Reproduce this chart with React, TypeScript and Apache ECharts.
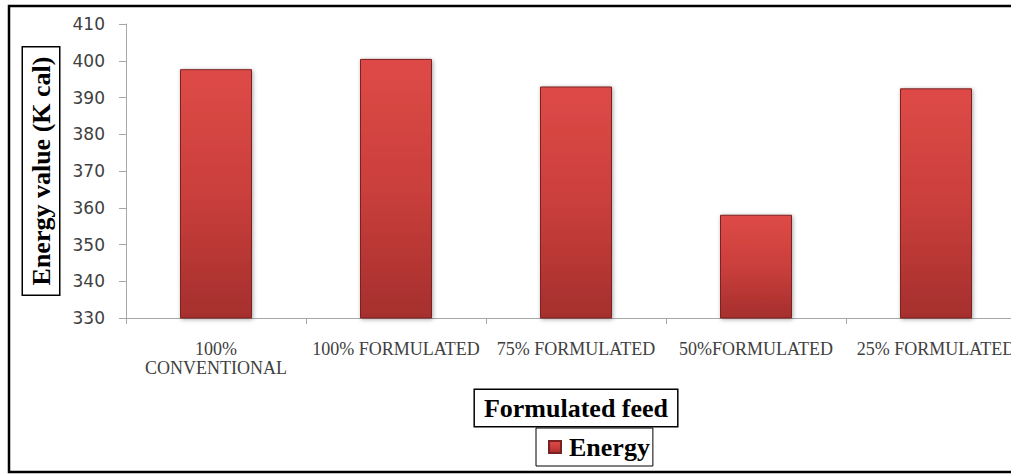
import React, { useEffect, useRef } from "react";
import * as echarts from "echarts";

const categories = ["100%\nCONVENTIONAL", "100% FORMULATED", "75% FORMULATED", "50%FORMULATED", "25% FORMULATED"];
const energyValues = [397.7, 400.5, 393.0, 358.1, 392.5];
const yTicks = { min: 330, max: 410, interval: 10 };
const seriesName = "Energy";
const xAxisTitle = "Formulated feed";
const yAxisTitle = "Energy value (K cal)";

export default function App() {
  const ref = useRef<HTMLDivElement>(null);
  useEffect(() => {
    if (!ref.current) return;
    const chart = echarts.init(ref.current, null, { renderer: "svg" });
    const barColor = new echarts.graphic.LinearGradient(0, 0, 0, 1, [
      { offset: 0, color: "#de4a47" },
      { offset: 0.5, color: "#ca3f3c" },
      { offset: 1, color: "#a52f2d" },
    ]);
    chart.setOption({
      animation: false,
      backgroundColor: "#ffffff",
      grid: { left: 126, top: 24, width: 900, bottom: 156 },
      graphic: [
        {
          type: "rect",
          shape: { x: 9, y: 6, width: 1040, height: 466 },
          style: { fill: "none", stroke: "#000", lineWidth: 2.5 },
          silent: true,
          z: 100,
        },
      ],
      legend: {
        data: [seriesName],
        left: 536,
        top: 428,
        icon: "rect",
        itemWidth: 12,
        itemHeight: 12,
        borderColor: "#000",
        borderWidth: 1,
        padding: [6, 3, 6, 12],
        backgroundColor: "#fff",
        textStyle: { fontFamily: "Liberation Serif", fontWeight: "bold", fontSize: 26, color: "#000", padding: [0, 0, 0, 3] },
      },
      xAxis: {
        type: "category",
        data: categories,
        name: xAxisTitle,
        nameLocation: "middle",
        nameGap: 72,
        nameTextStyle: {
          fontFamily: "Liberation Serif",
          fontWeight: "bold",
          fontSize: 26,
          color: "#000",
          borderColor: "#000",
          borderWidth: 1.5,
          padding: [5, 9, 5, 9],
          backgroundColor: "#fff",
        },
        axisLine: { lineStyle: { color: "#a6a6a6", width: 1 } },
        axisTick: { show: true, length: 6, lineStyle: { color: "#a6a6a6" } },
        axisLabel: {
          fontFamily: "Liberation Serif",
          fontSize: 18,
          lineHeight: 19,
          color: "#404040",
          margin: 21,
          interval: 0,
        },
      },
      yAxis: {
        type: "value",
        min: yTicks.min,
        max: yTicks.max,
        interval: yTicks.interval,
        name: yAxisTitle,
        nameLocation: "middle",
        nameGap: 67,
        nameTextStyle: {
          fontFamily: "Liberation Serif",
          fontWeight: "bold",
          fontSize: 26,
          color: "#000",
          borderColor: "#000",
          borderWidth: 1.5,
          padding: [5, 9, 5, 9],
          backgroundColor: "#fff",
        },
        splitLine: { show: false },
        axisLine: { show: true, lineStyle: { color: "#a6a6a6", width: 1 } },
        axisTick: { show: true, length: 7, lineStyle: { color: "#a6a6a6" } },
        axisLabel: {
          fontFamily: "DejaVu Sans",
          fontSize: 17,
          color: "#404040",
          margin: 21,
        },
      },
      series: [
        {
          name: seriesName,
          type: "bar",
          data: energyValues,
          barWidth: "40%",
          itemStyle: {
            color: barColor,
            borderColor: "#7a2222",
            borderWidth: 1,
            shadowColor: "rgba(0,0,0,0.35)",
            shadowBlur: 4,
            shadowOffsetX: 1,
            shadowOffsetY: 1,
          },
        },
      ],
    });
    return () => chart.dispose();
  }, []);
  return (
    <div
      style={{ position: "fixed", left: 0, top: 0, width: 1011, height: 474, overflow: "hidden", background: "#fff" }}
    >
      <div ref={ref} style={{ width: 1030, height: 474 }} />
    </div>
  );
}
